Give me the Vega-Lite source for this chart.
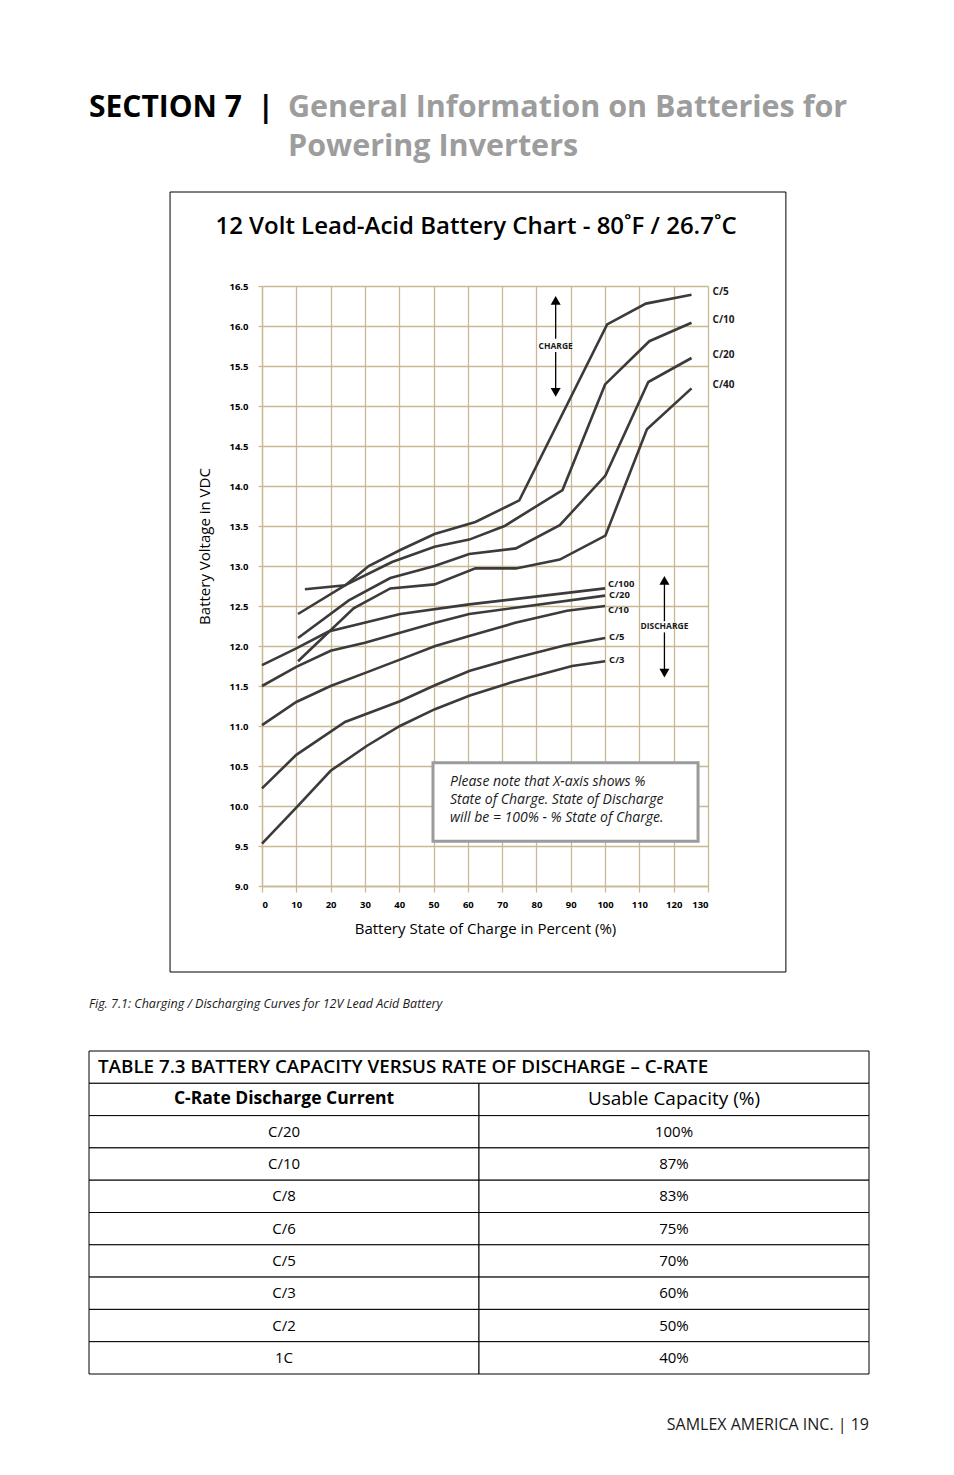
{
  "$schema": "https://vega.github.io/schema/vega-lite/v6.json",
  "background": "white",
  "padding": {"left": 88, "top": 92, "right": 86, "bottom": 10},
  "datasets": {
    "curves": [
      {"phase": "charge", "curve": "C/5", "soc": 12.5, "volts": 12.71},
      {"phase": "charge", "curve": "C/5", "soc": 24.3, "volts": 12.76},
      {"phase": "charge", "curve": "C/5", "soc": 31.1, "volts": 13.0},
      {"phase": "charge", "curve": "C/5", "soc": 40.3, "volts": 13.2},
      {"phase": "charge", "curve": "C/5", "soc": 50.3, "volts": 13.4},
      {"phase": "charge", "curve": "C/5", "soc": 62.2, "volts": 13.55},
      {"phase": "charge", "curve": "C/5", "soc": 75.0, "volts": 13.82},
      {"phase": "charge", "curve": "C/5", "soc": 100.6, "volts": 16.02},
      {"phase": "charge", "curve": "C/5", "soc": 111.9, "volts": 16.28},
      {"phase": "charge", "curve": "C/5", "soc": 125.2, "volts": 16.39},
      {"phase": "charge", "curve": "C/10", "soc": 10.5, "volts": 12.4},
      {"phase": "charge", "curve": "C/10", "soc": 24.3, "volts": 12.76},
      {"phase": "charge", "curve": "C/10", "soc": 37.9, "volts": 13.05},
      {"phase": "charge", "curve": "C/10", "soc": 50.3, "volts": 13.24},
      {"phase": "charge", "curve": "C/10", "soc": 60.4, "volts": 13.33},
      {"phase": "charge", "curve": "C/10", "soc": 70.7, "volts": 13.5},
      {"phase": "charge", "curve": "C/10", "soc": 87.6, "volts": 13.95},
      {"phase": "charge", "curve": "C/10", "soc": 100.0, "volts": 15.27},
      {"phase": "charge", "curve": "C/10", "soc": 112.9, "volts": 15.81},
      {"phase": "charge", "curve": "C/10", "soc": 125.2, "volts": 16.04},
      {"phase": "charge", "curve": "C/20", "soc": 10.5, "volts": 12.1},
      {"phase": "charge", "curve": "C/20", "soc": 25.3, "volts": 12.57},
      {"phase": "charge", "curve": "C/20", "soc": 37.4, "volts": 12.85},
      {"phase": "charge", "curve": "C/20", "soc": 50.3, "volts": 13.0},
      {"phase": "charge", "curve": "C/20", "soc": 60.4, "volts": 13.15},
      {"phase": "charge", "curve": "C/20", "soc": 74.0, "volts": 13.22},
      {"phase": "charge", "curve": "C/20", "soc": 86.8, "volts": 13.51},
      {"phase": "charge", "curve": "C/20", "soc": 100.1, "volts": 14.13},
      {"phase": "charge", "curve": "C/20", "soc": 112.6, "volts": 15.3},
      {"phase": "charge", "curve": "C/20", "soc": 125.2, "volts": 15.6},
      {"phase": "charge", "curve": "C/40", "soc": 10.5, "volts": 11.81},
      {"phase": "charge", "curve": "C/40", "soc": 26.7, "volts": 12.47},
      {"phase": "charge", "curve": "C/40", "soc": 37.4, "volts": 12.72},
      {"phase": "charge", "curve": "C/40", "soc": 50.3, "volts": 12.77},
      {"phase": "charge", "curve": "C/40", "soc": 62.2, "volts": 12.97},
      {"phase": "charge", "curve": "C/40", "soc": 74.0, "volts": 12.97},
      {"phase": "charge", "curve": "C/40", "soc": 86.8, "volts": 13.08},
      {"phase": "charge", "curve": "C/40", "soc": 100.1, "volts": 13.38},
      {"phase": "charge", "curve": "C/40", "soc": 112.2, "volts": 14.71},
      {"phase": "charge", "curve": "C/40", "soc": 125.2, "volts": 15.22},
      {"phase": "discharge", "curve": "C/100", "soc": 0, "volts": 11.76},
      {"phase": "discharge", "curve": "C/100", "soc": 10, "volts": 11.97},
      {"phase": "discharge", "curve": "C/100", "soc": 19.4, "volts": 12.18},
      {"phase": "discharge", "curve": "C/100", "soc": 40.3, "volts": 12.4},
      {"phase": "discharge", "curve": "C/100", "soc": 60.4, "volts": 12.52},
      {"phase": "discharge", "curve": "C/100", "soc": 100, "volts": 12.72},
      {"phase": "discharge", "curve": "C/20", "soc": 0, "volts": 11.5},
      {"phase": "discharge", "curve": "C/20", "soc": 10, "volts": 11.74},
      {"phase": "discharge", "curve": "C/20", "soc": 20, "volts": 11.94},
      {"phase": "discharge", "curve": "C/20", "soc": 30, "volts": 12.04},
      {"phase": "discharge", "curve": "C/20", "soc": 50.5, "volts": 12.29},
      {"phase": "discharge", "curve": "C/20", "soc": 60.4, "volts": 12.4},
      {"phase": "discharge", "curve": "C/20", "soc": 100, "volts": 12.63},
      {"phase": "discharge", "curve": "C/10", "soc": 0, "volts": 11.01},
      {"phase": "discharge", "curve": "C/10", "soc": 10, "volts": 11.3},
      {"phase": "discharge", "curve": "C/10", "soc": 20, "volts": 11.5},
      {"phase": "discharge", "curve": "C/10", "soc": 30.5, "volts": 11.67},
      {"phase": "discharge", "curve": "C/10", "soc": 40.2, "volts": 11.83},
      {"phase": "discharge", "curve": "C/10", "soc": 50.5, "volts": 12.0},
      {"phase": "discharge", "curve": "C/10", "soc": 60.4, "volts": 12.125},
      {"phase": "discharge", "curve": "C/10", "soc": 73.8, "volts": 12.29},
      {"phase": "discharge", "curve": "C/10", "soc": 88.9, "volts": 12.44},
      {"phase": "discharge", "curve": "C/10", "soc": 100, "volts": 12.5},
      {"phase": "discharge", "curve": "C/5", "soc": 0, "volts": 10.22},
      {"phase": "discharge", "curve": "C/5", "soc": 10, "volts": 10.64},
      {"phase": "discharge", "curve": "C/5", "soc": 24.2, "volts": 11.05},
      {"phase": "discharge", "curve": "C/5", "soc": 40.2, "volts": 11.31},
      {"phase": "discharge", "curve": "C/5", "soc": 50.4, "volts": 11.51},
      {"phase": "discharge", "curve": "C/5", "soc": 60.6, "volts": 11.69},
      {"phase": "discharge", "curve": "C/5", "soc": 73.8, "volts": 11.85},
      {"phase": "discharge", "curve": "C/5", "soc": 88.4, "volts": 12.01},
      {"phase": "discharge", "curve": "C/5", "soc": 100, "volts": 12.1},
      {"phase": "discharge", "curve": "C/3", "soc": 0, "volts": 9.53},
      {"phase": "discharge", "curve": "C/3", "soc": 10, "volts": 9.98},
      {"phase": "discharge", "curve": "C/3", "soc": 20, "volts": 10.44},
      {"phase": "discharge", "curve": "C/3", "soc": 30.5, "volts": 10.75},
      {"phase": "discharge", "curve": "C/3", "soc": 40.2, "volts": 11.0},
      {"phase": "discharge", "curve": "C/3", "soc": 50.4, "volts": 11.21},
      {"phase": "discharge", "curve": "C/3", "soc": 60.6, "volts": 11.38},
      {"phase": "discharge", "curve": "C/3", "soc": 73.8, "volts": 11.56},
      {"phase": "discharge", "curve": "C/3", "soc": 90.4, "volts": 11.75},
      {"phase": "discharge", "curve": "C/3", "soc": 100, "volts": 11.81}
    ],
    "capacity": [
      {"rate": "TABLE 7.3  BATTERY CAPACITY VERSUS RATE OF DISCHARGE – C-RATE", "capacity": "", "kind": "title"},
      {"rate": "C-Rate Discharge Current", "capacity": "Usable Capacity (%)", "kind": "header"},
      {"rate": "C/20", "capacity": "100%", "kind": "row"},
      {"rate": "C/10", "capacity": "87%", "kind": "row"},
      {"rate": "C/8", "capacity": "83%", "kind": "row"},
      {"rate": "C/6", "capacity": "75%", "kind": "row"},
      {"rate": "C/5", "capacity": "70%", "kind": "row"},
      {"rate": "C/3", "capacity": "60%", "kind": "row"},
      {"rate": "C/2", "capacity": "50%", "kind": "row"},
      {"rate": "1C", "capacity": "40%", "kind": "row"}
    ]
  },
  "vconcat": [
    {
      "hconcat": [
        {
          "width": 199, "height": 1,
          "data": {"values": []},
          "mark": "text",
          "encoding": {},
          "title": {"text": ["SECTION 7\u00a0 |", " "], "anchor": "start", "fontSize": 30, "fontWeight": "bold", "color": "#000000", "lineHeight": 39}
        },
        {
          "width": 581, "height": 1,
          "data": {"values": []},
          "mark": "text",
          "encoding": {},
          "title": {"text": ["General Information on Batteries for", "Powering Inverters"], "anchor": "start", "fontSize": 30.5, "fontWeight": "bold", "color": "#9d9d9d", "lineHeight": 39}
        }
      ],
      "spacing": 0
    },
    {
      "hconcat": [
        {
          "width": 80, "height": 1,
          "data": {"values": []},
          "mark": "text",
          "encoding": {}
        },
        {
          "width": 446,
          "height": 600,
          "title": {"text": "12 Volt Lead-Acid Battery Chart - 80˚F / 26.7˚C", "frame": "group", "anchor": "middle", "dx": -9, "offset": -47, "fontSize": 24, "fontWeight": 600, "color": "#000000"},
          "layer": [
            {
              "data": {"name": "curves"},
              "mark": {"type": "line", "color": "#3b3b3b", "strokeWidth": 2.6, "strokeJoin": "miter"},
              "encoding": {
                "x": {"field": "soc", "type": "quantitative", "scale": {"domain": [0, 130], "nice": false, "zero": false},
                      "axis": {"title": "Battery State of Charge in Percent (%)", "tickCount": 13, "labelOverlap": false, "tickSize": 6, "labelPadding": 7, "titlePadding": 13}},
                "y": {"field": "volts", "type": "quantitative", "scale": {"domain": [9, 16.5], "nice": false, "zero": false},
                      "axis": {"title": "Battery Voltage in VDC", "tickCount": 15, "labelOverlap": false, "format": ".1f", "tickSize": 4, "labelPadding": 10, "titlePadding": 16, "titleY": 260}},
                "detail": [{"field": "phase"}, {"field": "curve"}],
                "order": {"field": "soc", "type": "quantitative"}
              }
            },
            {
              "data": {"values": [{}]},
              "mark": {"type": "rect", "fill": null, "fillOpacity": 0, "stroke": "#000000", "strokeWidth": 1},
              "encoding": {"x": {"datum": -26.8}, "x2": {"datum": 152.7}, "y": {"datum": 17.675}, "y2": {"datum": 7.925}}
            },
            {
              "data": {"values": [{}]},
              "mark": {"type": "rect", "fill": "white", "stroke": "#9b9b9b", "strokeWidth": 3},
              "encoding": {"x": {"datum": 49.84}, "x2": {"datum": 127.1}, "y": {"datum": 10.54}, "y2": {"datum": 9.56}}
            },
            {
              "data": {"values": [{"note": ["Please note that X-axis shows %", "State of Charge. State of Discharge", "will be  = 100% - % State of Charge."]}]},
              "mark": {"type": "text", "align": "left", "baseline": "middle", "fontStyle": "italic", "fontSize": 14, "lineHeight": 18, "color": "#1a1a1a"},
              "encoding": {"x": {"datum": 54.8}, "y": {"datum": 10.3}, "text": {"field": "note"}}
            },
            {
              "data": {"name": "curves"},
              "transform": [
                {"joinaggregate": [{"op": "max", "field": "soc", "as": "endsoc"}], "groupby": ["phase", "curve"]},
                {"filter": "datum.soc === datum.endsoc && datum.phase === 'charge'"}
              ],
              "mark": {"type": "text", "align": "left", "baseline": "middle", "dx": 21, "dy": -3, "fontSize": 10, "fontWeight": "bold", "color": "#1a1a1a"},
              "encoding": {"x": {"field": "soc", "type": "quantitative"}, "y": {"field": "volts", "type": "quantitative"}, "text": {"field": "curve"}}
            },
            {
              "data": {"name": "curves"},
              "transform": [
                {"joinaggregate": [{"op": "max", "field": "soc", "as": "endsoc"}], "groupby": ["phase", "curve"]},
                {"filter": "datum.soc === datum.endsoc && datum.phase === 'discharge' && datum.curve === 'C/100'"}
              ],
              "mark": {"type": "text", "align": "left", "baseline": "middle", "dx": 3, "dy": -4, "fontSize": 9.5, "fontWeight": "bold", "color": "#1a1a1a"},
              "encoding": {"x": {"field": "soc", "type": "quantitative"}, "y": {"field": "volts", "type": "quantitative"}, "text": {"field": "curve"}}
            },
            {
              "data": {"name": "curves"},
              "transform": [
                {"joinaggregate": [{"op": "max", "field": "soc", "as": "endsoc"}], "groupby": ["phase", "curve"]},
                {"filter": "datum.soc === datum.endsoc && datum.phase === 'discharge' && datum.curve === 'C/10'"}
              ],
              "mark": {"type": "text", "align": "left", "baseline": "middle", "dx": 3, "dy": 4, "fontSize": 9.5, "fontWeight": "bold", "color": "#1a1a1a"},
              "encoding": {"x": {"field": "soc", "type": "quantitative"}, "y": {"field": "volts", "type": "quantitative"}, "text": {"field": "curve"}}
            },
            {
              "data": {"name": "curves"},
              "transform": [
                {"joinaggregate": [{"op": "max", "field": "soc", "as": "endsoc"}], "groupby": ["phase", "curve"]},
                {"filter": "datum.soc === datum.endsoc && datum.phase === 'discharge' && datum.curve !== 'C/10' && datum.curve !== 'C/100'"}
              ],
              "mark": {"type": "text", "align": "left", "baseline": "middle", "dx": 4, "dy": -1, "fontSize": 9.5, "fontWeight": "bold", "color": "#1a1a1a"},
              "encoding": {"x": {"field": "soc", "type": "quantitative"}, "y": {"field": "volts", "type": "quantitative"}, "text": {"field": "curve"}}
            },
            {
              "data": {"values": [{}]},
              "mark": {"type": "rule", "color": "#000000", "strokeWidth": 1.3},
              "encoding": {"x": {"datum": 85.6}, "y": {"datum": 16.3}, "y2": {"datum": 15.84}}
            },
            {
              "data": {"values": [{}]},
              "mark": {"type": "rule", "color": "#000000", "strokeWidth": 1.3},
              "encoding": {"x": {"datum": 85.6}, "y": {"datum": 15.675}, "y2": {"datum": 15.2}}
            },
            {
              "data": {"values": [{}]},
              "mark": {"type": "point", "shape": "triangle-up", "filled": true, "size": 100, "color": "#000000", "opacity": 1},
              "encoding": {"x": {"datum": 85.6}, "y": {"datum": 16.32}}
            },
            {
              "data": {"values": [{}]},
              "mark": {"type": "point", "shape": "triangle-down", "filled": true, "size": 100, "color": "#000000", "opacity": 1},
              "encoding": {"x": {"datum": 85.6}, "y": {"datum": 15.17}}
            },
            {
              "data": {"values": [{"label": "CHARGE"}]},
              "mark": {"type": "text", "align": "center", "baseline": "middle", "fontSize": 8.5, "fontWeight": "bold", "color": "#1a1a1a"},
              "encoding": {"x": {"datum": 85.6}, "y": {"datum": 15.75}, "text": {"field": "label"}}
            },
            {
              "data": {"values": [{}]},
              "mark": {"type": "rule", "color": "#000000", "strokeWidth": 1.3},
              "encoding": {"x": {"datum": 117.3}, "y": {"datum": 12.8}, "y2": {"datum": 12.31}}
            },
            {
              "data": {"values": [{}]},
              "mark": {"type": "rule", "color": "#000000", "strokeWidth": 1.3},
              "encoding": {"x": {"datum": 117.3}, "y": {"datum": 12.17}, "y2": {"datum": 11.68}}
            },
            {
              "data": {"values": [{}]},
              "mark": {"type": "point", "shape": "triangle-up", "filled": true, "size": 100, "color": "#000000", "opacity": 1},
              "encoding": {"x": {"datum": 117.3}, "y": {"datum": 12.82}}
            },
            {
              "data": {"values": [{}]},
              "mark": {"type": "point", "shape": "triangle-down", "filled": true, "size": 100, "color": "#000000", "opacity": 1},
              "encoding": {"x": {"datum": 117.3}, "y": {"datum": 11.66}}
            },
            {
              "data": {"values": [{"label": "DISCHARGE"}]},
              "mark": {"type": "text", "align": "center", "baseline": "middle", "fontSize": 8.5, "fontWeight": "bold", "color": "#1a1a1a"},
              "encoding": {"x": {"datum": 117.3}, "y": {"datum": 12.25}, "text": {"field": "label"}}
            }
          ]
        }
      ],
      "spacing": 0
    },
    {
      "width": 780, "height": 12,
      "data": {"values": []},
      "mark": "text",
      "encoding": {},
      "title": {"text": "Fig. 7.1:  Charging / Discharging Curves for 12V Lead Acid Battery", "anchor": "start", "fontSize": 12.5, "fontStyle": "italic", "fontWeight": "normal", "color": "#1a1a1a"}
    },
    {
      "width": 780, "height": 323,
      "data": {"name": "capacity"},
      "encoding": {
        "y": {"field": "rate", "type": "nominal", "sort": null, "axis": null, "scale": {"paddingInner": 0, "paddingOuter": 0}}
      },
      "layer": [
        {
          "transform": [{"filter": "datum.kind === 'title'"}],
          "mark": {"type": "rect", "fill": "white", "stroke": "#000000", "strokeWidth": 1},
          "encoding": {"x": {"datum": 0, "type": "quantitative", "scale": {"domain": [0, 2], "nice": false, "zero": false}, "axis": null}, "x2": {"datum": 2}}
        },
        {
          "transform": [{"filter": "datum.kind !== 'title'"}],
          "mark": {"type": "rect", "fill": "white", "stroke": "#000000", "strokeWidth": 1},
          "encoding": {"x": {"datum": 0, "type": "quantitative", "axis": null}, "x2": {"datum": 1}}
        },
        {
          "transform": [{"filter": "datum.kind !== 'title'"}],
          "mark": {"type": "rect", "fill": "white", "stroke": "#000000", "strokeWidth": 1},
          "encoding": {"x": {"datum": 1, "type": "quantitative", "axis": null}, "x2": {"datum": 2}}
        },
        {
          "transform": [{"filter": "datum.kind === 'title'"}],
          "mark": {"type": "text", "align": "left", "baseline": "middle", "dx": 9, "fontSize": 18.8, "fontWeight": 600, "color": "#000000"},
          "encoding": {"x": {"datum": 0, "type": "quantitative", "axis": null}, "text": {"field": "rate"}}
        },
        {
          "transform": [{"filter": "datum.kind === 'header'"}],
          "mark": {"type": "text", "align": "center", "baseline": "middle", "fontSize": 17.5, "fontWeight": "bold", "color": "#000000"},
          "encoding": {"x": {"datum": 0.5, "type": "quantitative", "axis": null}, "text": {"field": "rate"}}
        },
        {
          "transform": [{"filter": "datum.kind === 'header'"}],
          "mark": {"type": "text", "align": "center", "baseline": "middle", "fontSize": 19, "color": "#000000"},
          "encoding": {"x": {"datum": 1.5, "type": "quantitative", "axis": null}, "text": {"field": "capacity"}}
        },
        {
          "transform": [{"filter": "datum.kind === 'row'"}],
          "mark": {"type": "text", "align": "center", "baseline": "middle", "fontSize": 15, "color": "#000000"},
          "encoding": {"x": {"datum": 0.5, "type": "quantitative", "axis": null}, "text": {"field": "rate"}}
        },
        {
          "transform": [{"filter": "datum.kind === 'row'"}],
          "mark": {"type": "text", "align": "center", "baseline": "middle", "fontSize": 15, "color": "#000000"},
          "encoding": {"x": {"datum": 1.5, "type": "quantitative", "axis": null}, "text": {"field": "capacity"}}
        }
      ]
    },
    {
      "width": 780, "height": 20,
      "data": {"values": []},
      "mark": "text",
      "encoding": {},
      "title": {"text": "SAMLEX AMERICA INC.  |  19", "anchor": "end", "fontSize": 16, "fontWeight": "normal", "color": "#1a1a1a", "dy": 38}
    }
  ],
  "spacing": 24,
  "config": {
    "font": "Open Sans",
    "view": {"stroke": null},
    "title": {"offset": 0},
    "axis": {
      "gridColor": "#c8b894",
      "gridWidth": 1.3,
      "gridOpacity": 1,
      "domainColor": "#c8b894",
      "domainWidth": 1.3,
      "tickColor": "#c8b894",
      "tickWidth": 1.3,
      "labelFont": "Open Sans",
      "labelFontSize": 9.5,
      "labelFontWeight": "bold",
      "labelColor": "#000000",
      "labelOverlap": false,
      "titleFont": "Open Sans",
      "titleFontSize": 15,
      "titleFontWeight": "normal",
      "titleColor": "#000000"
    },
    "axisX": {"tickCount": 13},
    "axisY": {"tickCount": 15}
  }
}
